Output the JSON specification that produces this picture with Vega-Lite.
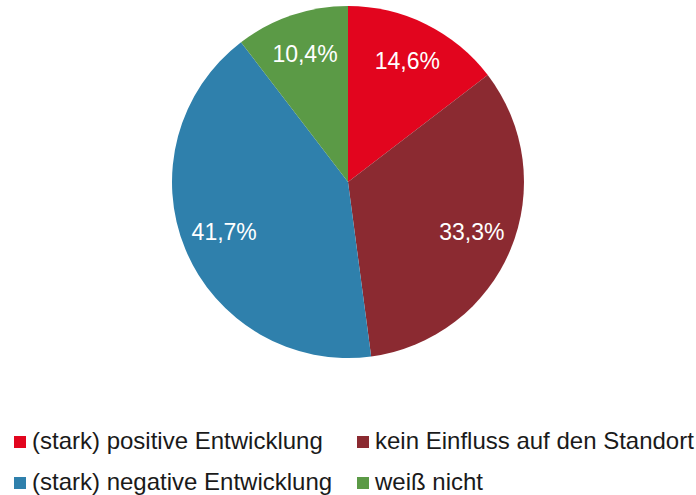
{
  "$schema": "https://vega.github.io/schema/vega-lite/v6.json",
  "width": 696,
  "height": 364,
  "autosize": {"type": "none"},
  "padding": {"left": 0, "right": 0, "top": 0, "bottom": 131},
  "background": "white",
  "config": {"view": {"stroke": null}, "font": "Liberation Sans"},
  "data": {
    "values": [
      {"category": "(stark) positive Entwicklung", "value": 14.6, "label": "14,6%", "ord": 1},
      {"category": "kein Einfluss auf den Standort", "value": 33.3, "label": "33,3%", "ord": 2},
      {"category": "(stark) negative Entwicklung", "value": 41.7, "label": "41,7%", "ord": 3},
      {"category": "weiß nicht", "value": 10.4, "label": "10,4%", "ord": 4}
    ]
  },
  "encoding": {
    "theta": {"field": "value", "type": "quantitative", "stack": true},
    "order": {"field": "ord", "type": "quantitative"},
    "color": {
      "field": "category",
      "type": "nominal",
      "scale": {
        "domain": ["(stark) positive Entwicklung", "kein Einfluss auf den Standort", "(stark) negative Entwicklung", "weiß nicht"],
        "range": ["#E2051E", "#8B2A31", "#2F80AC", "#5B9A46"]
      },
      "legend": {
        "title": null,
        "orient": "none",
        "legendX": 8,
        "legendY": 430,
        "direction": "horizontal",
        "columns": 2,
        "columnPadding": 18,
        "rowPadding": 17,
        "symbolType": "square",
        "symbolSize": 144,
        "symbolStrokeWidth": 0,
        "labelFontSize": 24,
        "labelColor": "#1a1a1a",
        "labelFont": "Liberation Sans",
        "labelLimit": 0,
        "labelOffset": 0
      }
    }
  },
  "layer": [
    {"mark": {"type": "arc", "outerRadius": 176}},
    {
      "mark": {"type": "text", "radius": 134, "fontSize": 23, "font": "Liberation Sans"},
      "encoding": {"text": {"field": "label", "type": "nominal"}, "color": {"value": "white"}}
    }
  ]
}
